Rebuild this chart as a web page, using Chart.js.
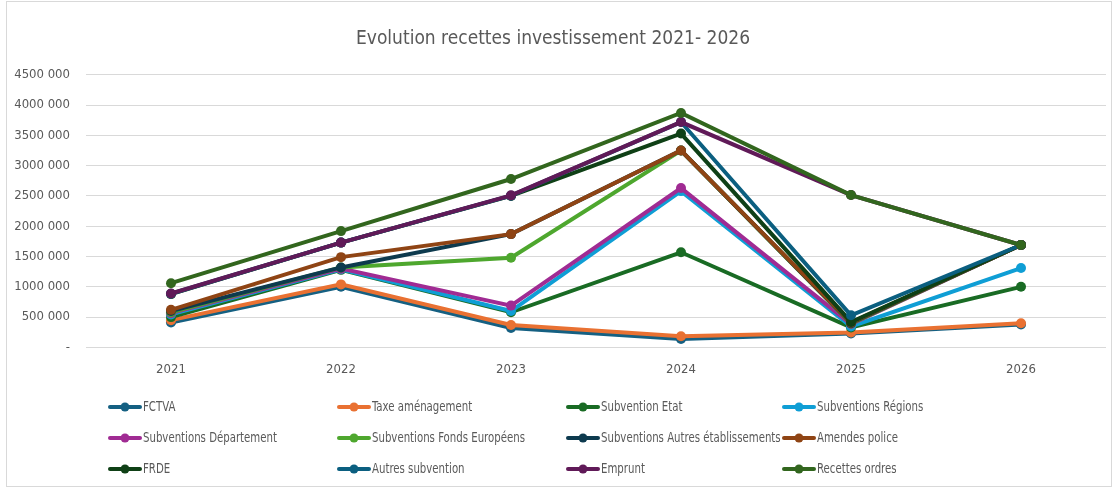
<!DOCTYPE html>
<html>
<head>
<meta charset="utf-8">
<script src="https://cdn.jsdelivr.net/npm/chart.js@4.4.1/dist/chart.umd.min.js"></script>
<style>
  html, body { margin: 0; padding: 0; background: #fff; }
  #wrap { position: relative; width: 1113px; height: 488px; }
  #cadre { position: absolute; left: 6px; top: 1px; width: 1104px; height: 484px; border: 1px solid #d9d9d9; pointer-events: none; }
</style>
</head>
<body>
<div id="wrap">
  <canvas id="graph" width="1113" height="488"></canvas>
  <div id="cadre"></div>
</div>
<script>
const ANNEES = ["2021", "2022", "2023", "2024", "2025", "2026"];

const fctva = [410000, 1000000, 320000, 140000, 230000, 380000];
const taxeAmenagement = [450000, 1040000, 370000, 185000, 245000, 400000];
const subventionEtat = [500000, 1280000, 580000, 1570000, 330000, 1000000];
const subventionsRegions = [545000, 1290000, 600000, 2580000, 345000, 1310000];
const subventionsDepartement = [565000, 1300000, 690000, 2630000, 385000, 1690000];
const fondsEuropeens = [580000, 1320000, 1480000, 3250000, 395000, 1690000];
const autresEtablissements = [600000, 1320000, 1870000, 3250000, 400000, 1690000];
const amendesPolice = [620000, 1490000, 1870000, 3250000, 410000, 1690000];
const frde = [880000, 1730000, 2500000, 3530000, 420000, 1690000];
const autresSubvention = [885000, 1730000, 2505000, 3720000, 530000, 1690000];
const emprunt = [890000, 1730000, 2510000, 3720000, 2515000, 1690000];
const recettesOrdres = [1060000, 1920000, 2780000, 3870000, 2515000, 1690000];

const SERIES = [
    ["FCTVA", fctva, "#156082"],
    ["Taxe aménagement", taxeAmenagement, "#E97132"],
    ["Subvention Etat", subventionEtat, "#196B24"],
    ["Subventions Régions", subventionsRegions, "#0F9ED5"],
    ["Subventions Département", subventionsDepartement, "#A02B93"],
    ["Subventions Fonds Européens", fondsEuropeens, "#4EA72E"],
    ["Subventions Autres établissements", autresEtablissements, "#0D3A4E"],
    ["Amendes police", amendesPolice, "#8F4414"],
    ["FRDE", frde, "#0F4016"],
    ["Autres subvention", autresSubvention, "#0B5F80"],
    ["Emprunt", emprunt, "#601A58"],
    ["Recettes ordres", recettesOrdres, "#32661E"],
];

const POLICE = "'Liberation Sans Narrow', 'DejaVu Sans Condensed', 'Liberation Sans', Arial, sans-serif";
const GRIS = "#595959";

// legende dessinee a la main, 4 colonnes comme dans Excel
const legendeExcel = {
    id: "legendeExcel",
    afterDraw(chart) {
        const ctx = chart.ctx;
        const colonnes = [109, 338, 567, 783];
        const lignes = [407, 438, 469];
        ctx.save();
        ctx.font = "14.5px " + POLICE;
        ctx.textBaseline = "middle";
        chart.data.datasets.forEach((ds, i) => {
            const x = colonnes[i % 4];
            const y = lignes[Math.floor(i / 4)];
            ctx.strokeStyle = ds.borderColor;
            ctx.lineWidth = 4;
            ctx.lineCap = "round";
            ctx.beginPath();
            ctx.moveTo(x + 1, y);
            ctx.lineTo(x + 31, y);
            ctx.stroke();
            ctx.fillStyle = ds.borderColor;
            ctx.beginPath();
            ctx.arc(x + 16, y, 4.5, 0, Math.PI * 2);
            ctx.fill();
            // texte un peu comprime, la police Excel est etroite
            ctx.save();
            ctx.translate(x + 34, y);
            ctx.scale(0.78, 1);
            ctx.fillStyle = GRIS;
            ctx.fillText(ds.label, 0, 0);
            ctx.restore();
        });
        ctx.restore();
    },
};

new Chart(document.getElementById("graph"), {
    type: "line",
    data: {
        labels: ANNEES,
        datasets: SERIES.map(([label, data, couleur], i) => ({
            label,
            data,
            borderColor: couleur,
            backgroundColor: couleur,
            borderWidth: 4,
            pointRadius: 5,
            pointHoverRadius: 5,
            pointBorderWidth: 0,
            tension: 0,
            order: SERIES.length - i,
        })),
    },
    options: {
        responsive: false,
        animation: false,
        layout: { padding: { left: 0, right: 7, top: 0, bottom: 105 } },
        plugins: {
            legend: { display: false },
            tooltip: { enabled: false },
            title: {
                display: true,
                text: "Evolution recettes investissement 2021- 2026",
                color: GRIS,
                font: { family: POLICE, size: 19, weight: "normal" },
                padding: { top: 28, bottom: 24 },
            },
        },
        scales: {
            x: {
                offset: true,
                grid: { display: false },
                border: { display: false },
                ticks: { color: GRIS, font: { family: POLICE, size: 13 }, padding: 6 },
            },
            y: {
                min: 0,
                max: 4500000,
                border: { display: false },
                grid: { color: "#d9d9d9", lineWidth: 1, drawTicks: false },
                afterFit: (scale) => { scale.width = 86; },
                ticks: {
                    stepSize: 500000,
                    color: GRIS,
                    padding: 16,
                    font: { family: POLICE, size: 13 },
                    callback: (v) => (v === 0 ? "-" : v / 1000 + " 000"),
                },
            },
        },
    },
    plugins: [legendeExcel],
});
</script>
</body>
</html>
